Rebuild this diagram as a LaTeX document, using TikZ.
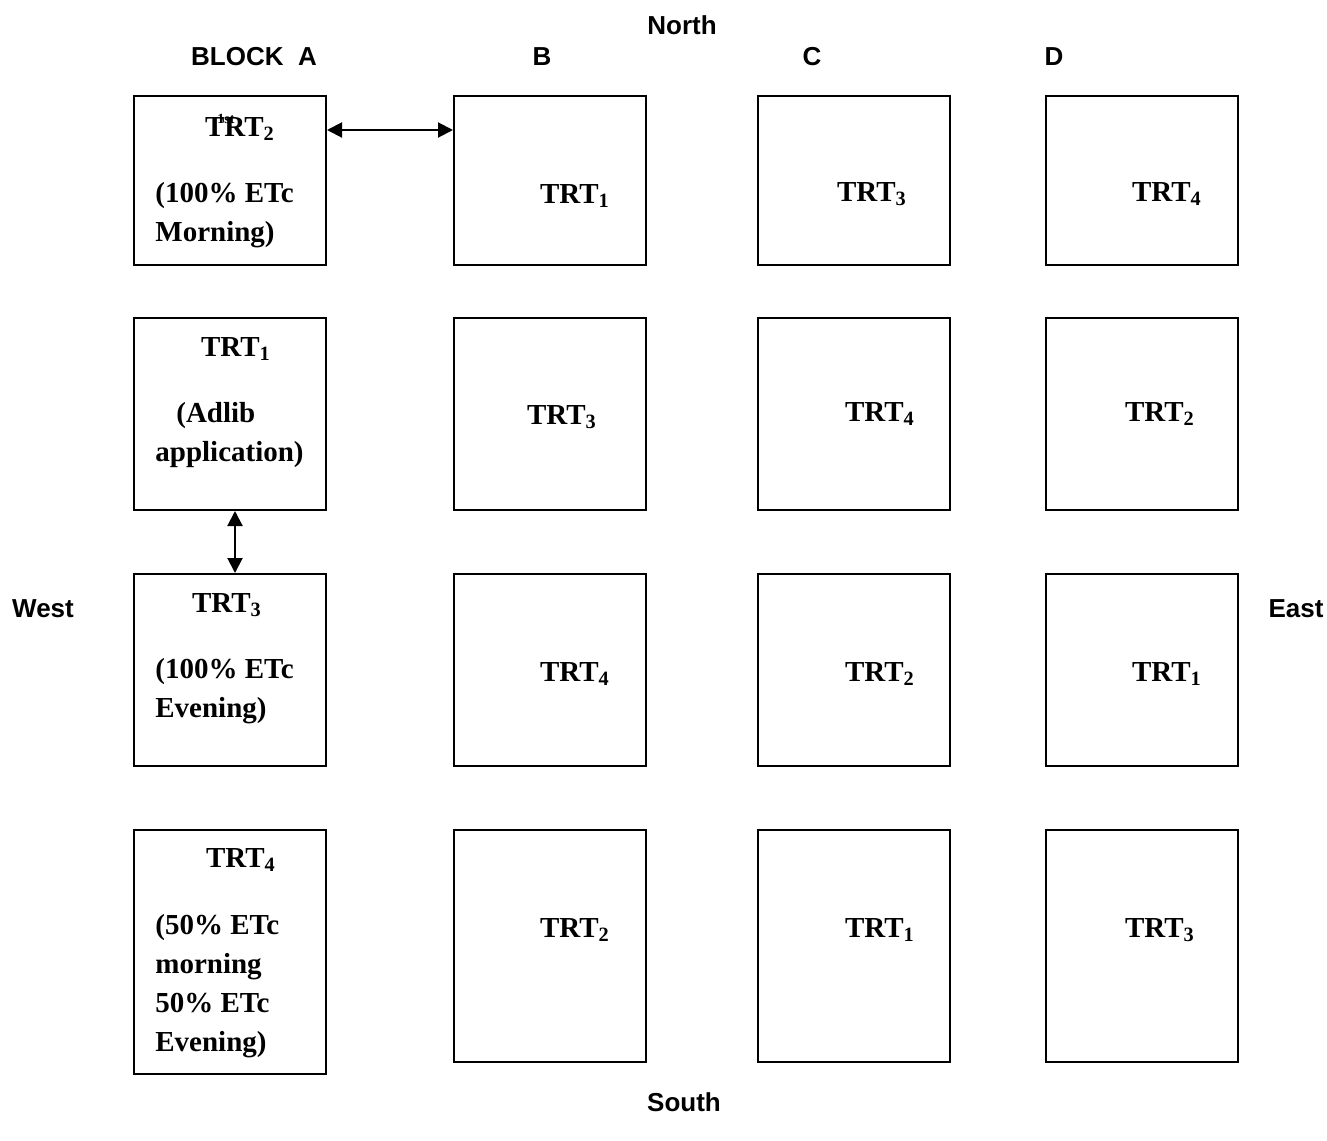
\documentclass[tikz,border=0pt]{standalone}
\usepackage{fontspec}
\setmainfont{Liberation Serif}
\setsansfont{Liberation Sans}
\usetikzlibrary{arrows.meta,calc,positioning}
\newcommand{\trt}[1]{TRT\textsubscript{#1}}

\begin{document}
\begin{tikzpicture}[x=0.5pt,y=-0.5pt,
  plotbox/.style={draw,line width=1pt,minimum width=96pt,inner sep=0pt},
  dir/.style={font=\sffamily\bfseries\fontsize{13}{15}\selectfont,inner sep=0pt},
  trt/.style={font=\bfseries\fontsize{14.5}{19.4}\selectfont,inner sep=0pt},
  >={Triangle[length=7.5pt,width=7.5pt]}]
  \useasboundingbox (0,0) rectangle (1327,1140);
  \node[dir] (north) at (682,25) {North};
  \node[dir] (south) at (684,1102) {South};
  \node[dir] (west) at (43,609) {West};
  \node[dir] (east) at (1296,609) {East};
  \node[dir] (blka) at (254,57) {BLOCK\ \ A};
  \node[dir] (blkb) at (542,57) {B};
  \node[dir] (blkc) at (812,57) {C};
  \node[dir] (blkd) at (1054,57) {D};
  \node[plotbox,minimum height=84.5pt] (a1) at (230,180.5) {};
  \node[plotbox,minimum height=96pt] (a2) at (230,414) {};
  \node[plotbox,minimum height=96pt] (a3) at (230,670) {};
  \node[plotbox,minimum height=122pt] (a4) at (230,952) {};
  \foreach \c/\x in {b/550,c/854,d/1142} {
    \node[plotbox,minimum height=84.5pt] (\c1) at (\x,180.5) {};
    \node[plotbox,minimum height=96pt] (\c2) at (\x,414) {};
    \node[plotbox,minimum height=96pt] (\c3) at (\x,670) {};
    \node[plotbox,minimum height=116pt] (\c4) at (\x,946) {};
  }
  \node[trt] (ta1) at (240,129) {\trt{2}};
  \node[font=\bfseries\fontsize{7}{8}\selectfont,inner sep=0pt] (first) at (226,119) {1st};
  \node[trt,anchor=west,align=left] (na1) at (155,215) {(100\% ETc\\Morning)};
  \node[trt,anchor=west,align=left] (na2) at (155,435) {\hspace*{10.5pt}(Adlib\\application)};
  \node[trt] (ta2) at (236,349) {\trt{1}};
  \node[trt] (ta3) at (227,605) {\trt{3}};
  \node[trt,anchor=west,align=left] (na3) at (155,691) {(100\% ETc\\Evening)};
  \node[trt] (ta4) at (241,860) {\trt{4}};
  \node[trt,anchor=west,align=left] (na4) at (155,986) {(50\% ETc\\morning\\50\% ETc\\Evening)};
  \node[trt] (tb1) at (575,196) {\trt{1}};
  \node[trt] (tc1) at (872,194) {\trt{3}};
  \node[trt] (td1) at (1167,194) {\trt{4}};
  \node[trt] (tb2) at (562,417) {\trt{3}};
  \node[trt] (tc2) at (880,414) {\trt{4}};
  \node[trt] (td2) at (1160,414) {\trt{2}};
  \node[trt] (tb3) at (575,674) {\trt{4}};
  \node[trt] (tc3) at (880,674) {\trt{2}};
  \node[trt] (td3) at (1167,674) {\trt{1}};
  \node[trt] (tb4) at (575,930) {\trt{2}};
  \node[trt] (tc4) at (880,930) {\trt{1}};
  \node[trt] (td4) at (1160,930) {\trt{3}};
  \draw[<->,line width=1pt] ([yshift=-17.5pt]a1.north east) -- ([yshift=-17.5pt]b1.north west);
  \draw[<->,line width=1pt] ([xshift=2.5pt]a2.south) -- ([xshift=2.5pt]a3.north);
\end{tikzpicture}
\end{document}
